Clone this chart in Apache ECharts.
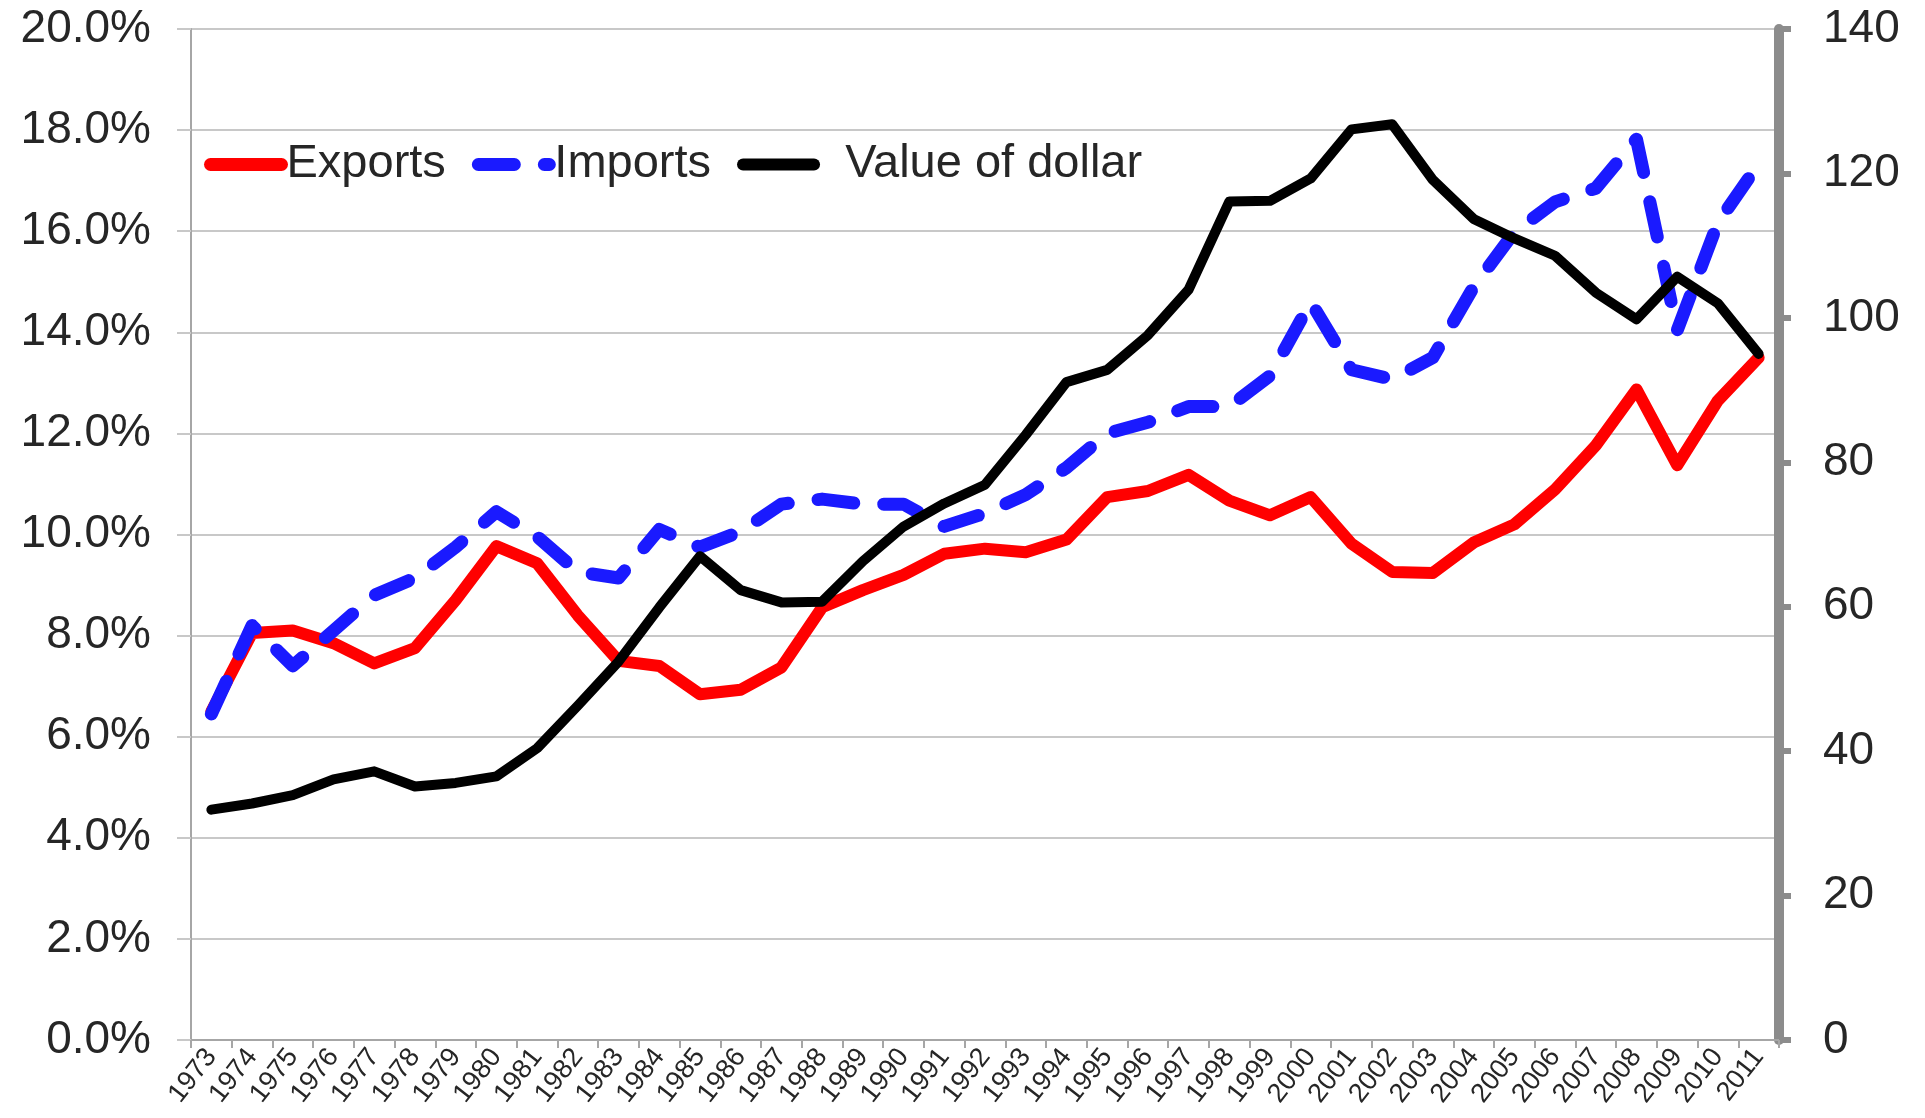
<!DOCTYPE html>
<html>
<head>
<meta charset="utf-8">
<script src="https://cdn.jsdelivr.net/npm/echarts@6/dist/echarts.min.js"></script>
<style>
html,body{margin:0;padding:0;background:#fff;}
#chart{width:1925px;height:1118px;}
</style>
</head>
<body>
<div id="chart"></div>
<script>
const years = ['1973','1974','1975','1976','1977','1978','1979','1980','1981','1982','1983','1984','1985','1986','1987','1988','1989','1990','1991','1992','1993','1994','1995','1996','1997','1998','1999','2000','2001','2002','2003','2004','2005','2006','2007','2008','2009','2010','2011'];
const exportsPct = [6.5,8.05,8.1,7.85,7.45,7.75,8.7,9.77,9.43,8.4,7.5,7.4,6.84,6.93,7.37,8.56,8.9,9.2,9.62,9.72,9.65,9.9,10.74,10.86,11.18,10.67,10.38,10.74,9.82,9.26,9.24,9.84,10.2,10.89,11.76,12.87,11.37,12.65,13.5];
const importsPct = [6.45,8.2,7.4,8.1,8.8,9.14,9.75,10.45,9.96,9.26,9.14,10.1,9.75,10.06,10.6,10.7,10.6,10.6,10.16,10.42,10.79,11.32,12.0,12.22,12.53,12.53,13.14,14.6,13.26,13.07,13.5,14.9,15.98,16.58,16.85,17.82,14.04,16.17,17.33];
const dollarValue = [31.9,32.75,33.9,36.1,37.2,35.1,35.6,36.5,40.4,46.3,52.4,59.9,67.0,62.3,60.6,60.7,66.3,71.1,74.3,76.9,83.8,91.1,92.8,97.6,103.9,116.1,116.2,119.3,126.1,126.8,119.1,113.7,111.0,108.6,103.5,99.8,105.7,102.0,95.0];
const leftTicks = {min:0, max:20, interval:2};
const rightTicks = {min:0, max:140, interval:20};

const chart = echarts.init(document.getElementById('chart'));
const font = 'Liberation Sans, Arial, sans-serif';
const dashPattern = [36, 30];
chart.setOption({
  animation:false,
  backgroundColor:'#fff',
  grid:{left:191, right:146, top:29, bottom:78, containLabel:false},
  legend:{
    left:199, top:136,
    itemWidth:71, itemHeight:14, itemGap:26,
    textStyle:{fontFamily:font, fontSize:47, color:'#262626'},
    formatter:function(n){return n==='Value of dollar' ? '  '+n : n;},
    data:[
      {name:'Exports', itemStyle:{opacity:0}, lineStyle:{color:'#ff0000', width:13, cap:'round'}},
      {name:'Imports', itemStyle:{opacity:0}, lineStyle:{color:'#1a1aff', width:13, type:dashPattern, cap:'round'}},
      {name:'Value of dollar', itemStyle:{opacity:0}, lineStyle:{color:'#000000', width:12, cap:'round'}}
    ]
  },
  xAxis:{
    type:'category', data:years, boundaryGap:true,
    axisLine:{lineStyle:{color:'#a6a6a6', width:2}},
    axisTick:{show:true, length:8, lineStyle:{color:'#a6a6a6', width:2}},
    axisLabel:{rotate:52, fontFamily:font, fontSize:27, color:'#262626', margin:12, interval:0}
  },
  yAxis:[{
    type:'value', min:leftTicks.min, max:leftTicks.max, interval:leftTicks.interval,
    axisLine:{show:true, lineStyle:{color:'#a6a6a6', width:2}},
    axisTick:{show:true, length:14, lineStyle:{color:'#c8c8c8', width:2}},
    splitLine:{lineStyle:{color:'#c8c8c8', width:2}},
    axisLabel:{fontFamily:font, fontSize:46, color:'#262626', margin:40,
      formatter:function(v){return v.toFixed(1)+'%';}}
  },{
    type:'value', position:'right', min:rightTicks.min, max:rightTicks.max, interval:rightTicks.interval,
    axisLine:{show:true, onZero:false, lineStyle:{color:'#8c8c8c', width:10}},
    axisTick:{show:true, length:12, lineStyle:{color:'#8c8c8c', width:6}},
    splitLine:{show:false},
    axisLabel:{fontFamily:font, fontSize:46, color:'#262626', margin:44}
  }],
  series:[{
    name:'Exports', type:'line', data:exportsPct, yAxisIndex:0,
    symbol:'none', lineStyle:{color:'#ff0000', width:12, cap:'round', join:'round'},
    itemStyle:{color:'#ff0000'}, z:2
  },{
    name:'Imports', type:'line', data:importsPct, yAxisIndex:0,
    symbol:'none', lineStyle:{color:'#1a1aff', width:13, type:dashPattern, cap:'round', join:'round'},
    itemStyle:{color:'#1a1aff'}, z:3
  },{
    name:'Value of dollar', type:'line', data:dollarValue, yAxisIndex:1,
    symbol:'none', lineStyle:{color:'#000000', width:10, cap:'round', join:'round'},
    itemStyle:{color:'#000'}, z:4
  }]
});
</script>
</body>
</html>
